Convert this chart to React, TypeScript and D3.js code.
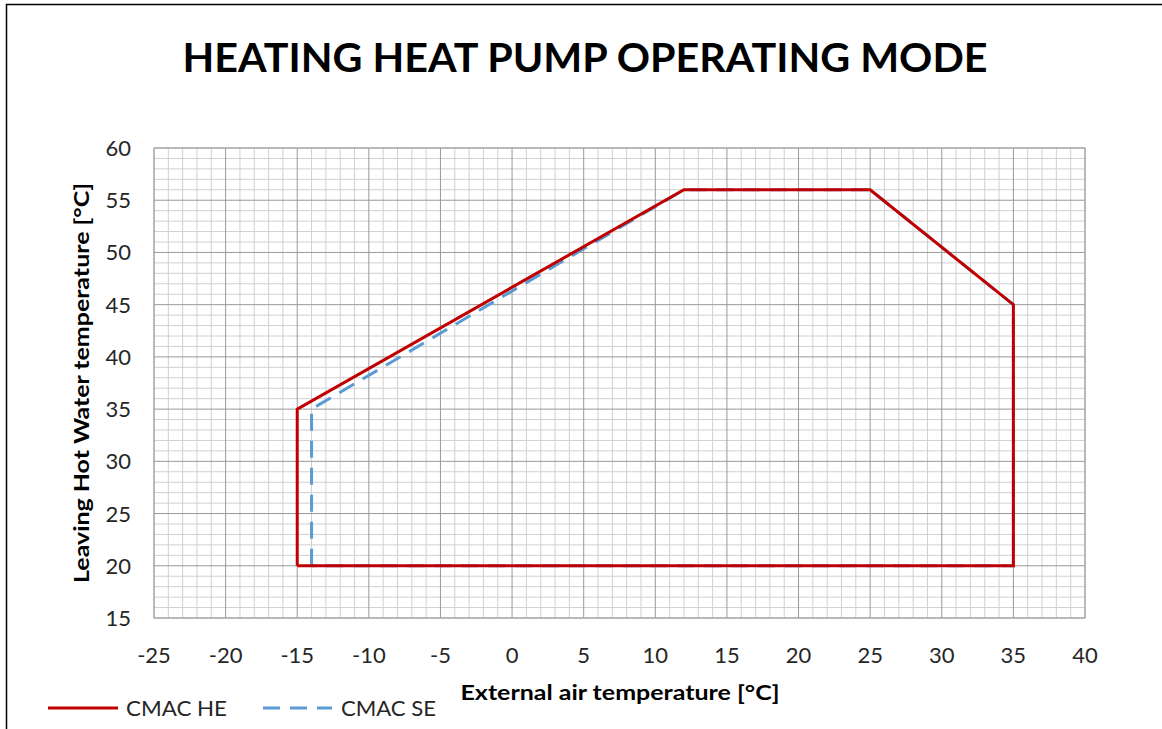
import React from "react";
import * as d3 from "d3";

const xTicks = [-25, -20, -15, -10, -5, 0, 5, 10, 15, 20, 25, 30, 35, 40];
const yTicks = [15, 20, 25, 30, 35, 40, 45, 50, 55, 60];
const heX = [-15, -15, 12, 25, 35, 35, -15];
const heY = [20, 35, 56, 56, 45, 20, 20];
const seX = [-14, -14, 12, 25, 35, 35, -14];
const seY = [20, 35, 56, 56, 45, 20, 20];

const W = 1162, H = 729;
const L = 154, R = 1085, T = 148, B = 618;
const FONT = "Lato, 'Open Sans', sans-serif";

export default function App() {
  const x = d3.scaleLinear().domain([-25, 40]).range([L, R]);
  const y = d3.scaleLinear().domain([15, 60]).range([B, T]);
  const minorX = d3.range(-25, 41, 1).filter((v) => v % 5 !== 0);
  const minorY = d3.range(15, 61, 1).filter((v) => v % 5 !== 0);
  const line = d3
    .line<[number, number]>()
    .x((d) => x(d[0]))
    .y((d) => y(d[1]));
  const he = heX.map((v, i) => [v, heY[i]] as [number, number]);
  const se = seX.map((v, i) => [v, seY[i]] as [number, number]);

  return (
    <svg width={W} height={H} style={{ position: "absolute", left: 0, top: 0, background: "#fff" }}>
      <rect x={0} y={0} width={W} height={H} fill="#fff" />
      <path d={`M6.5,${H} V4.5 H${W}`} fill="none" stroke="#000" strokeWidth={1.5} />
      <text x={585} y={72} textAnchor="middle" fontFamily={FONT} fontWeight="bold" fontSize={41} textLength={805} lengthAdjust="spacingAndGlyphs" fill="#000">
        HEATING HEAT PUMP OPERATING MODE
      </text>
      {minorX.map((v) => (
        <line key={"mx" + v} x1={x(v)} x2={x(v)} y1={T} y2={B} stroke="#d0d0d0" strokeWidth={1} />
      ))}
      {minorY.map((v) => (
        <line key={"my" + v} x1={L} x2={R} y1={y(v)} y2={y(v)} stroke="#d0d0d0" strokeWidth={1} />
      ))}
      {xTicks.map((v) => (
        <line key={"Mx" + v} x1={x(v)} x2={x(v)} y1={T} y2={B} stroke="#999" strokeWidth={1} />
      ))}
      {yTicks.map((v) => (
        <line key={"My" + v} x1={L} x2={R} y1={y(v)} y2={y(v)} stroke="#999" strokeWidth={1} />
      ))}
      <rect x={L} y={T} width={R - L} height={B - T} fill="none" stroke="#a6a6a6" strokeWidth={1} />
      <path d={line(se) || ""} fill="none" stroke="#5B9BD5" strokeWidth={3} strokeDasharray="17,10" />
      <path d={line(he) || ""} fill="none" stroke="#C00000" strokeWidth={3} strokeLinejoin="miter" />
      {yTicks.map((v) => (
        <text key={"yl" + v} x={131} y={y(v) + 8} textAnchor="end" fontFamily={FONT} fontSize={22} fill="#262626">
          {v}
        </text>
      ))}
      {xTicks.map((v) => (
        <text key={"xl" + v} x={x(v)} y={663} textAnchor="middle" fontFamily={FONT} fontSize={22} fill="#262626">
          {v}
        </text>
      ))}
      <text x={620} y={700} textAnchor="middle" fontFamily={FONT} fontWeight="bold" fontSize={21} textLength={319} lengthAdjust="spacingAndGlyphs" fill="#000">
        External air temperature [°C]
      </text>
      <text transform={`translate(89,383) rotate(-90)`} textAnchor="middle" fontFamily={FONT} fontWeight="bold" fontSize={21} textLength={400} lengthAdjust="spacingAndGlyphs" fill="#000">
        Leaving Hot Water temperature [°C]
      </text>
      <line x1={48} x2={118} y1={708} y2={708} stroke="#C00000" strokeWidth={3} />
      <text x={126} y={716} fontFamily={FONT} fontSize={21} textLength={101} lengthAdjust="spacingAndGlyphs" fill="#262626">
        CMAC HE
      </text>
      <line x1={263} x2={332} y1={708} y2={708} stroke="#5B9BD5" strokeWidth={3} strokeDasharray="17,10" />
      <text x={341} y={716} fontFamily={FONT} fontSize={21} textLength={95} lengthAdjust="spacingAndGlyphs" fill="#262626">
        CMAC SE
      </text>
    </svg>
  );
}
